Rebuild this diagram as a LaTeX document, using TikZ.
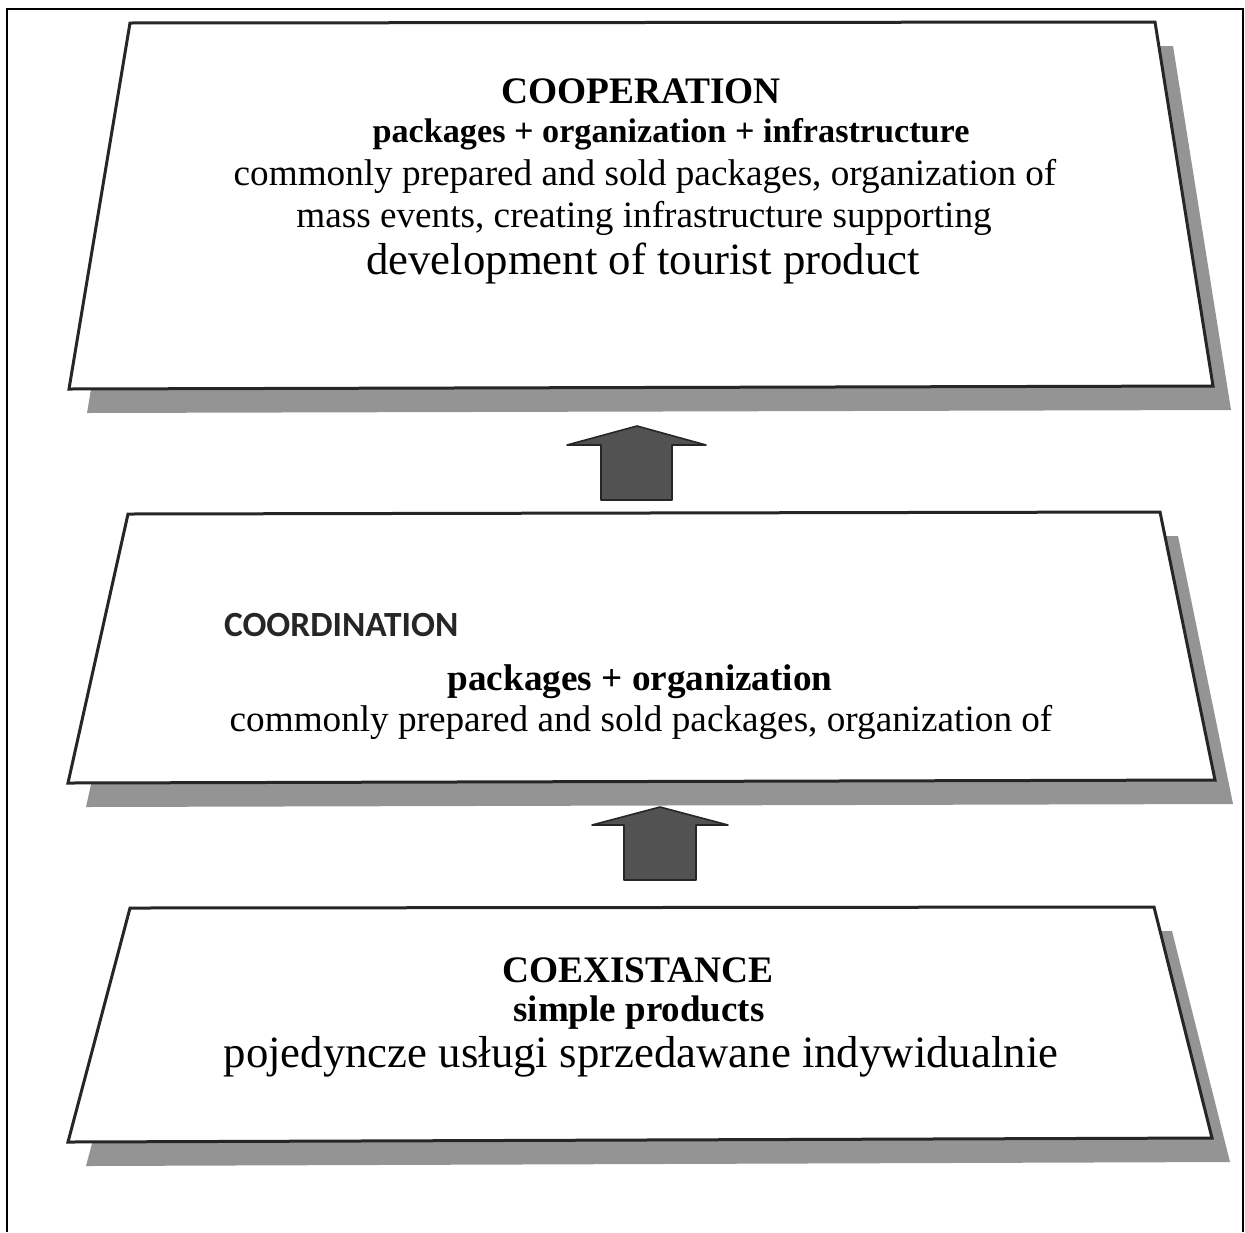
\documentclass[tikz,border=0pt]{standalone}
\usepackage{fontspec}
\setmainfont{Liberation Serif}
\newfontfamily\sanshead{Carlito}

% one level: grey drop shadow, then the white plate on top
\newcommand\levelplate[5]{%
  \fill[shadow, shift={(18,24)}] #2 -- #3 -- #4 -- #5 -- cycle;
  \draw[plate] #2 -- #3 -- #4 -- #5 -- cycle;
  \coordinate (#1) at ($#2!0.5!#4$);}

\usetikzlibrary{calc}

\begin{document}
\begin{tikzpicture}[x=0.5pt, y=-0.5pt,
  plate/.style={draw=black!85, line width=1.5pt, fill=white, line join=miter},
  shadow/.style={fill=black!42},
  uparrow/.style={draw=black!85, line width=0.8pt, fill=black!68, line join=round},
  title/.style={anchor=base, font=\bfseries\fontsize{18.7}{22}\selectfont},
  bold/.style={anchor=base, font=\bfseries\fontsize{18.5}{22}\selectfont},
  plain/.style={anchor=base, font=\fontsize{18.6}{22}\selectfont},
  large/.style={anchor=base, font=\fontsize{22.4}{26}\selectfont}]
\useasboundingbox (0,0) rectangle (1245,1232);

% frame, runs off the bottom of the page
\draw[line width=1pt] (7,1232) -- (7,9) -- (1243,9) -- (1243,1232);

% the three levels
\levelplate{top}{(130,23)}{(1155,22)}{(1213,386)}{(69,389)}
\levelplate{mid}{(128,514)}{(1160,512)}{(1215,780)}{(68,783)}
\levelplate{low}{(130,908)}{(1154,907)}{(1212,1138)}{(68,1142)}

% block arrows between the levels
\draw[uparrow] (637,426) -- ++(69,19) -- ++(-34,0) -- ++(0,55) -- ++(-71,0) -- ++(0,-55) -- ++(-34,0) -- cycle;
\draw[uparrow] (660,807) -- ++(68,18) -- ++(-32,0) -- ++(0,55) -- ++(-72,0) -- ++(0,-55) -- ++(-32,0) -- cycle;

% top level
\node[title] (coop) at (641,103) {COOPERATION};
\node[bold, font=\bfseries\fontsize{17.1}{20}\selectfont] (coopa) at (671,142) {packages + organization + infrastructure};
\node[plain] (coopb) at (645,185) {commonly prepared and sold packages, organization of};
\node[plain] (coopc) at (644,227) {mass events, creating infrastructure supporting};
\node[large] (coopd) at (643,274) {development of tourist product};

% middle level
\node[anchor=base west, font=\sanshead\bfseries\fontsize{17.7}{21}\selectfont, text=black!85] (coord) at (217,636) {COORDINATION};
\node[bold, font=\bfseries\fontsize{18.6}{22}\selectfont] (coorda) at (640,690) {packages + organization};
\node[plain] (coordb) at (641,731) {commonly prepared and sold packages, organization of};

% bottom level
\node[title] (coex) at (638,982) {COEXISTANCE};
\node[bold] (coexa) at (639,1021) {simple products};
\node[large] (coexb) at (641,1067) {pojedyncze usługi sprzedawane indywidualnie};
\end{tikzpicture}
\end{document}
